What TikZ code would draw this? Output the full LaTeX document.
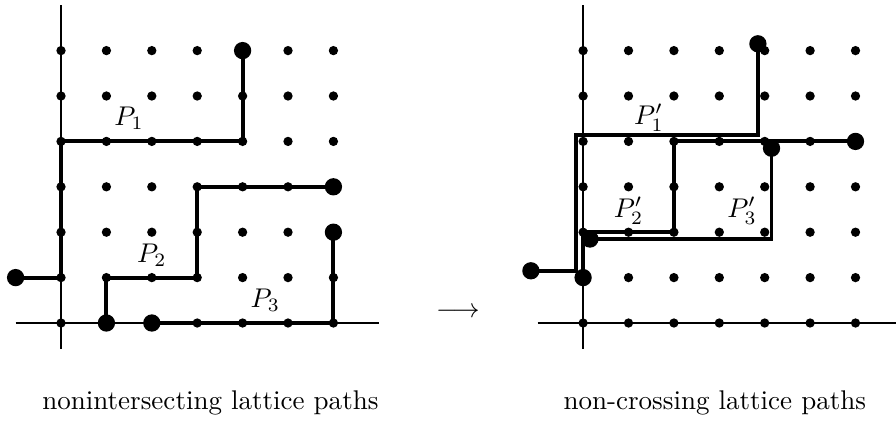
\documentclass[tikz,border=0pt]{standalone}
\begin{document}
\begin{tikzpicture}[x=0.59cm,y=0.59cm,
  axis/.style={line width=0.75pt},
  lpath/.style={line width=1.45pt},
  sdotr/.style={radius=1.72pt},
  bdotr/.style={radius=3.2pt}]
\useasboundingbox (-1.344,-2.137) rectangle (18.392,7.115);
% ---------- left picture ----------
\begin{scope}
  \draw[axis] (-1,0) -- (7,0);
  \draw[axis] (0,-0.57) -- (0,7);
  \foreach \i in {0,...,6} \foreach \j in {0,...,6} \fill[sdotr] (\i,\j) circle;
  \draw[lpath] (-1,1) -- (0,1) -- (0,4) -- (4,4) -- (4,6);
  \draw[lpath] (1,0) -- (1,1) -- (3,1) -- (3,3) -- (6,3);
  \draw[lpath] (2,0) -- (6,0) -- (6,2);
  \foreach \p in {(-1,1),(4,6),(1,0),(6,3),(2,0),(6,2)} \fill[bdotr] \p circle;
  \node (lp1) at (1.5,4.5) {$P_1$};
  \node (lp2) at (2,1.5) {$P_2$};
  \node (lp3) at (4.5,0.5) {$P_3$};
  \node (lcap) at (3.29,-1.76) {nonintersecting lattice paths};
\end{scope}
\node (arr) at (8.74,0.22) {$\longrightarrow$};
% ---------- right picture ----------
\begin{scope}[xshift=11.5*0.59cm]
  \draw[axis] (-1,0) -- (7,0);
  \draw[axis] (0,-0.57) -- (0,7);
  \foreach \i in {0,...,6} \foreach \j in {0,...,6} \fill[sdotr] (\i,\j) circle;
  \begin{scope}[shift={(-0.15,0.15)}]
    \draw[lpath] (-1,1) -- (0,1) -- (0,4) -- (4,4) -- (4,6);
    \fill[bdotr] (-1,1) circle;
    \fill[bdotr] (4,6) circle;
  \end{scope}
  \draw[lpath] (0,1) -- (0,2) -- (2,2) -- (2,4) -- (6,4);
  \fill[bdotr] (0,1) circle;
  \fill[bdotr] (6,4) circle;
  \begin{scope}[shift={(0.15,-0.15)}]
    \draw[lpath] (0,2) -- (4,2) -- (4,4);
    \fill[bdotr] (0,2) circle;
    \fill[bdotr] (4,4) circle;
  \end{scope}
  \node (rp1) at (1.45,4.52) {$P_1'$};
  \node (rp2) at (1,2.47) {$P_2'$};
  \node (rp3) at (3.5,2.47) {$P_3'$};
  \node (rcap) at (2.9,-1.76) {non-crossing lattice paths};
\end{scope}
\end{tikzpicture}
\end{document}
